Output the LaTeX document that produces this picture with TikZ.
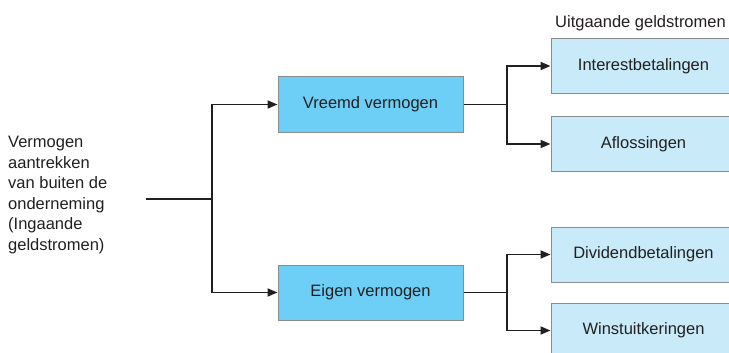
\documentclass[tikz,border=0pt]{standalone}
\usepackage{fontspec}
\setmainfont{Liberation Sans}
\usetikzlibrary{arrows.meta}
\definecolor{boxdark}{HTML}{6DCFF6}
\definecolor{boxlight}{HTML}{C8EAF9}
\definecolor{boxedge}{HTML}{8A8C8E}
\definecolor{inkline}{HTML}{231F20}
\tikzset{
  every node/.style={font=\fontsize{16.5}{20.6}\selectfont, text=inkline},
  mainbox/.style={draw=boxedge, line width=1pt, fill=boxdark, minimum width=185pt, minimum height=55pt, inner sep=0pt},
  flowbox/.style={draw=boxedge, line width=1pt, fill=boxlight, minimum width=185pt, minimum height=55pt, inner sep=0pt},
  link/.style={draw=inkline, line width=1.8pt},
  arrowlink/.style={link, -{Triangle[length=10pt,width=8pt]}, shorten >=0pt},
}
\begin{document}
\begin{tikzpicture}[x=1pt, y=-1pt]
  \useasboundingbox (0,0) rectangle (729,353);
  \clip (0,0) rectangle (729,353);

  % source text
  \node[anchor=north west, align=left, inner sep=0pt] (src) at (8,136)
    {Vermogen\\aantrekken\\van buiten de\\onderneming\\(Ingaande\\geldstromen)};

  % sources of capital
  \node[mainbox] (vv) at (370.5,104.5) {Vreemd vermogen};
  \node[mainbox] (ev) at (370.5,292.5) {Eigen vermogen};

  % outgoing cash flows
  \node[anchor=base west, inner sep=0pt] (title) at (555,28) {Uitgaande geldstromen};
  \node[flowbox] (ib) at (643.5,66) {Interestbetalingen};
  \node[flowbox] (af) at (643.5,144) {Aflossingen};
  \node[flowbox] (db) at (643.5,254.5) {Dividendbetalingen};
  \node[flowbox] (wu) at (643.5,330.5) {Winstuitkeringen};

  % junction points
  \coordinate (s) at (146,199);
  \coordinate (j) at (212,199);
  \coordinate (b1) at (507,104.5);
  \coordinate (b2) at (507,292.5);

  % connectors
  \draw[link] (s) -- (j);
  \draw[arrowlink] (j) |- (vv.west);
  \draw[arrowlink] (j) |- (ev.west);

  \draw[link] (vv.east) -- (b1);
  \draw[arrowlink] (b1) |- (ib.west);
  \draw[arrowlink] (b1) |- (af.west);

  \draw[link] (ev.east) -- (b2);
  \draw[arrowlink] (b2) |- (db.west);
  \draw[arrowlink] (b2) |- (wu.west);
\end{tikzpicture}
\end{document}
